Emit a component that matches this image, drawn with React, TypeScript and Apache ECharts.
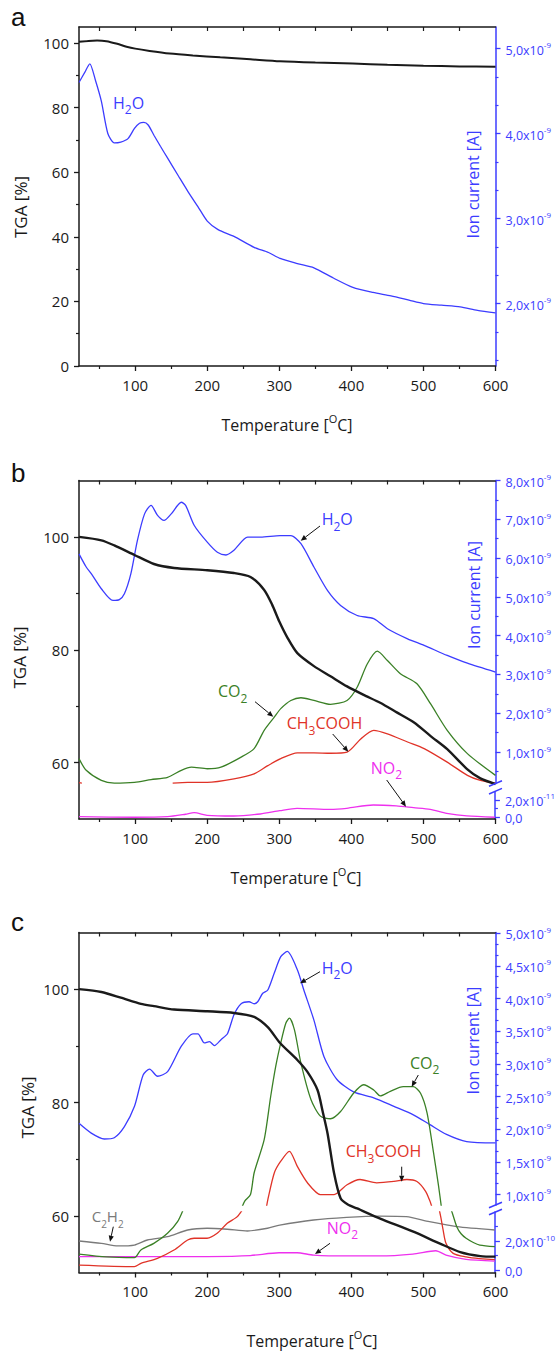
import React, { useEffect, useRef } from "react";
import * as echarts from "echarts";

const FONT = '"Open Sans", "Noto Sans", sans-serif';
const BLUE = "#3c3cff";
const GREEN = "#3a8026";
const RED = "#e03328";
const MAGENTA = "#ee30ee";
const GREY = "#7a7a7a";
const INK = "#1a1a1a";

// ---------- axes ----------
const X_MIN = 22;
const X_MAX = 600;
const X_TICK_LABELS = [100, 200, 300, 400, 500, 600];
const X_MINOR_TICKS = [50, 150, 250, 350, 450, 550];
const X_TOP_TICKS = [50, 100, 150, 200, 250, 300, 350, 400, 450, 500, 550];

const A_TGA_LABELS = [0, 20, 40, 60, 80, 100];
const A_TGA_MINOR = [10, 30, 50, 70, 90];
const BC_TGA_LABELS = [60, 80, 100];
const BC_TGA_MINOR = [70, 90];

const A_ION_LABELS = [2, 3, 4, 5];
const B_ION_LABELS = [1, 2, 3, 4, 5, 6, 7, 8];
const B_LOW_LABELS = [0, 2];
const C_ION_LABELS = [1, 1.5, 2, 2.5, 3, 3.5, 4, 4.5, 5];
const C_LOW_LABELS = [0, 2];

// ---------- panel a ----------
const A_TGA_T = [22, 35, 47, 60, 75, 88, 100, 120, 148, 180, 218, 260, 301, 350, 402, 450, 500, 550, 600];
const A_TGA = [100.4, 100.7, 100.8, 100.6, 99.8, 98.9, 98.3, 97.6, 96.8, 96.2, 95.6, 95.0, 94.4, 94.0, 93.7, 93.3, 93.0, 92.8, 92.7];
const A_H2O_T = [22, 30, 37, 45, 53, 62, 71, 80, 90, 99, 106, 112, 118, 126, 135, 145, 160, 173, 187, 200, 215, 237, 265, 285, 301, 325, 348, 375, 402, 430, 455, 480, 500, 525, 551, 575, 600];
const A_H2O = [4.60, 4.72, 4.82, 4.62, 4.38, 4.00, 3.89, 3.90, 3.94, 4.06, 4.12, 4.13, 4.10, 3.98, 3.85, 3.71, 3.50, 3.32, 3.14, 2.97, 2.87, 2.79, 2.66, 2.60, 2.53, 2.47, 2.42, 2.30, 2.19, 2.13, 2.09, 2.04, 2.00, 1.98, 1.96, 1.92, 1.89];

// ---------- panel b ----------
const B_TGA_T = [22, 53, 71, 99, 126, 154, 200, 237, 260, 279, 290, 300, 311, 325, 348, 371, 394, 417, 440, 463, 487, 510, 533, 561, 579, 600];
const B_TGA = [100, 99.4, 98.5, 96.8, 95.2, 94.5, 94.1, 93.6, 92.9, 90.6, 88.0, 85.0, 82.2, 79.4, 77.1, 75.3, 73.5, 72.0, 70.6, 68.9, 67.1, 64.7, 62.4, 58.8, 57.2, 56.2];
const B_H2O_T = [22, 32, 39, 53, 69, 78, 85, 94, 103, 113, 122, 131, 140, 150, 164, 170, 182, 200, 214, 226, 237, 256, 274, 301, 316, 330, 348, 367, 385, 408, 431, 450, 478, 501, 533, 561, 600];
const B_H2O = [6.11, 5.77, 5.60, 5.21, 4.91, 4.93, 5.08, 5.60, 6.45, 7.14, 7.36, 7.10, 6.97, 7.14, 7.44, 7.36, 6.84, 6.41, 6.15, 6.08, 6.20, 6.54, 6.54, 6.58, 6.58, 6.37, 5.77, 5.16, 4.78, 4.52, 4.44, 4.18, 3.92, 3.75, 3.49, 3.29, 3.06];
const B_CO2_T = [22, 32, 53, 71, 99, 122, 145, 164, 178, 200, 219, 247, 265, 279, 293, 302, 316, 330, 348, 371, 394, 408, 422, 436, 450, 468, 491, 510, 533, 561, 600];
const B_CO2 = [0.83, 0.53, 0.27, 0.20, 0.22, 0.29, 0.35, 0.53, 0.61, 0.57, 0.61, 0.87, 1.09, 1.56, 1.90, 2.12, 2.33, 2.40, 2.33, 2.23, 2.33, 2.67, 3.27, 3.60, 3.36, 3.02, 2.76, 2.24, 1.56, 0.96, 0.40];
const B_ACID_T = [22, 26, 27, 152, 173, 200, 237, 265, 284, 302, 325, 348, 371, 394, 413, 431, 450, 478, 501, 533, 561, 579, 600];
const B_ACID = [0.21, 0.2, null, 0.2, 0.22, 0.22, 0.31, 0.44, 0.65, 0.83, 0.98, 0.98, 0.97, 1.0, 1.34, 1.56, 1.47, 1.26, 1.09, 0.74, 0.40, 0.27, 0.2];
// NO2 in units of 1e-11 A
const B_NO2_T = [22, 99, 145, 170, 182, 200, 237, 274, 301, 325, 371, 394, 431, 463, 487, 510, 533, 561, 600];
const B_NO2 = [0.07, 0.0, 0.07, 0.35, 0.53, 0.23, 0.15, 0.38, 0.76, 1.04, 0.92, 1.04, 1.42, 1.31, 1.11, 0.92, 0.46, 0.15, 0.0];

// ---------- panel c ----------
const C_TGA_T = [22, 53, 80, 108, 126, 154, 200, 237, 265, 284, 301, 325, 339, 353, 360, 367, 376, 385, 395, 408, 440, 486, 523, 551, 579, 600];
const C_TGA = [100, 99.5, 98.5, 97.4, 97.0, 96.4, 96.1, 95.8, 95.1, 93.3, 90.5, 87.5, 85.4, 82.2, 78.5, 74.5, 67.5, 63.1, 62.0, 61.3, 59.5, 57.2, 55.1, 53.6, 52.9, 52.8];
const C_H2O_T = [22, 39, 57, 71, 85, 99, 111, 120, 131, 145, 164, 180, 187, 196, 203, 210, 219, 228, 237, 247, 258, 265, 270, 277, 284, 293, 302, 311, 325, 334, 348, 362, 380, 403, 431, 459, 486, 509, 532, 560, 600];
const C_H2O = [2.09, 1.94, 1.85, 1.87, 2.04, 2.35, 2.83, 2.92, 2.81, 2.88, 3.27, 3.46, 3.46, 3.32, 3.34, 3.28, 3.37, 3.46, 3.75, 3.92, 3.95, 3.92, 3.95, 4.08, 4.13, 4.39, 4.64, 4.72, 4.44, 4.13, 3.67, 3.11, 2.76, 2.57, 2.48, 2.35, 2.22, 2.07, 1.92, 1.81, 1.79];
// upper section, units of 1e-9 A
const C_CO2_HI_T = [248, 252, 260, 265, 279, 288, 295, 302, 309, 314, 321, 330, 344, 357, 371, 385, 403, 417, 431, 440, 454, 472, 486, 496, 505, 514, 521, 525];
const C_CO2_HI = [0.80, 0.90, 1.0, 1.33, 1.84, 2.50, 2.96, 3.32, 3.62, 3.70, 3.52, 3.01, 2.45, 2.20, 2.16, 2.27, 2.55, 2.68, 2.60, 2.51, 2.58, 2.65, 2.65, 2.55, 2.25, 1.64, 1.13, 0.80];
const C_ACID_HI_T = [282, 284, 293, 302, 314, 325, 339, 357, 376, 394, 412, 435, 459, 477, 491, 503, 509, 512];
const C_ACID_HI = [0.80, 0.92, 1.33, 1.51, 1.66, 1.43, 1.18, 1.0, 1.0, 1.15, 1.23, 1.18, 1.20, 1.23, 1.20, 1.05, 0.90, 0.80];
// lower section, units of 1e-10 A
const C_CO2_LO_T = [22, 60, 99, 108, 126, 145, 159, 168, 300, 538, 541, 547, 553, 560, 570, 579, 600];
const C_CO2_LO = [1.10, 0.90, 0.85, 1.38, 1.84, 2.53, 3.33, 4.3, null, 4.3, 3.9, 2.99, 2.5, 2.19, 1.9, 1.72, 1.61];
const C_ACID_LO_T = [22, 99, 108, 131, 154, 173, 182, 200, 214, 228, 242, 251, 300, 522, 525, 528, 532, 542, 560, 579, 600];
const C_ACID_LO = [0.34, 0.23, 0.46, 0.81, 1.38, 2.07, 2.19, 2.19, 2.53, 3.22, 3.68, 4.3, null, 4.3, 3.6, 2.76, 1.84, 1.15, 0.9, 0.78, 0.72];
const C_NO2_T = [22, 100, 200, 260, 300, 325, 348, 394, 440, 486, 518, 532, 560, 600];
const C_NO2 = [0.92, 0.92, 0.93, 1.0, 1.19, 1.19, 1.03, 0.97, 0.97, 1.10, 1.33, 1.03, 0.74, 0.62];
const C_C2H2_T = [22, 53, 76, 99, 117, 145, 173, 200, 228, 256, 284, 301, 348, 394, 440, 477, 509, 547, 600];
const C_C2H2 = [2.0, 1.84, 1.66, 1.72, 2.07, 2.30, 2.76, 2.88, 2.81, 2.69, 2.88, 3.10, 3.45, 3.63, 3.72, 3.68, 3.33, 2.99, 2.76];

// ---------- layout ----------
const LEFT = 79;
const WIDTH = 416.5;

function minorsOf(majors: number[], parts: number, lo: number, hi: number) {
  const step = (majors[1] - majors[0]) / parts;
  const out: number[] = [];
  const start = majors[0] - step * parts;
  for (let v = start; v <= majors[majors.length - 1] + step * parts + 1e-9; v += step) {
    const isMajor = majors.some((m) => Math.abs(m - v) < 1e-6);
    if (!isMajor && v > lo && v < hi) out.push(+v.toFixed(4));
  }
  return out;
}

const ION_RICH = {
  n: { fontFamily: FONT, fontSize: 12.5, color: BLUE, lineHeight: 16, verticalAlign: "bottom" },
  s: { fontFamily: FONT, fontSize: 8, color: BLUE, lineHeight: 9, verticalAlign: "top" },
};

function ionLabel(v: number, exp: string) {
  if (Math.abs(v) < 1e-9) return "{n|0,0}";
  return `{n|${v.toFixed(1).replace(".", ",")}x10}{s|${exp}}`;
}

function buildOption() {
  const grid: any[] = [];
  const xAxis: any[] = [];
  const yAxis: any[] = [];
  const series: any[] = [];
  const graphic: any[] = [];

  const addGrid = (top: number, height: number) => {
    grid.push({ left: LEFT, width: WIDTH, top, height, containLabel: false });
    return grid.length - 1;
  };

  const labelStyle = { fontFamily: FONT, fontSize: 15, color: INK };

  const tickOnlyX = (g: number, position: string, values: number[], length: number, inside: boolean, showLine: boolean) => ({
    type: "value", gridIndex: g, min: X_MIN, max: X_MAX, position,
    axisLine: { show: showLine, onZero: false, lineStyle: { color: INK, width: 1.5 } },
    axisTick: { show: true, inside, length, customValues: values, lineStyle: { color: INK, width: 1.2 } },
    axisLabel: { show: false },
    splitLine: { show: false },
  });

  const tickOnlyY = (g: number, min: number, max: number, position: string, values: number[], length: number, color: string) => ({
    type: "value", gridIndex: g, min, max, position,
    axisLine: { show: false, onZero: false },
    axisTick: { show: true, inside: false, length, customValues: values, lineStyle: { color, width: 1.2 } },
    axisLabel: { show: false },
    splitLine: { show: false },
  });

  const frameX = (g: number) => {
    const idx = xAxis.push({
      type: "value", gridIndex: g, min: X_MIN, max: X_MAX, position: "bottom",
      axisLine: { show: true, onZero: false, lineStyle: { color: INK, width: 1.5 } },
      axisTick: { show: true, inside: false, length: 5, customValues: X_TICK_LABELS, lineStyle: { color: INK, width: 1.3 } },
      axisLabel: { show: true, customValues: X_TICK_LABELS, margin: 11, ...labelStyle },
      splitLine: { show: false },
    }) - 1;
    xAxis.push(tickOnlyX(g, "bottom", X_MINOR_TICKS, 3, false, false));
    xAxis.push(tickOnlyX(g, "top", X_TOP_TICKS, 4, true, true));
    return idx;
  };

  const hiddenX = (g: number) =>
    xAxis.push({ type: "value", gridIndex: g, min: X_MIN, max: X_MAX, show: false, axisLine: { onZero: false } }) - 1;

  const leftAxis = (g: number, min: number, max: number, labels: number[], minors: number[]) => {
    const idx = yAxis.push({
      type: "value", gridIndex: g, min, max, position: "left",
      axisLine: { show: true, onZero: false, lineStyle: { color: INK, width: 1.5 } },
      axisTick: { show: true, inside: false, length: 5, customValues: labels, lineStyle: { color: INK, width: 1.3 } },
      axisLabel: { show: true, customValues: labels, margin: 10, ...labelStyle },
      splitLine: { show: false },
    }) - 1;
    yAxis.push(tickOnlyY(g, min, max, "left", minors, 3, INK));
    return idx;
  };

  const ionAxis = (g: number, min: number, max: number, labels: number[], minors: number[], exp: string) => {
    const idx = yAxis.push({
      type: "value", gridIndex: g, min, max, position: "right",
      axisLine: { show: true, onZero: false, lineStyle: { color: BLUE, width: 1.5 } },
      axisTick: { show: true, inside: false, length: 5, customValues: labels, lineStyle: { color: BLUE, width: 1.3 } },
      axisLabel: { show: true, customValues: labels, margin: 10, formatter: (v: number) => ionLabel(v, exp), rich: ION_RICH },
      splitLine: { show: false },
    }) - 1;
    yAxis.push(tickOnlyY(g, min, max, "right", minors, 3, BLUE));
    return idx;
  };

  const line = (xi: number, yi: number, T: number[], V: (number | null)[], color: string, width: number) => {
    series.push({
      type: "line", xAxisIndex: xi, yAxisIndex: yi,
      data: T.map((t, i) => [t, V[i]]),
      symbol: "none", smooth: 0.25, clip: true, silent: true,
      lineStyle: { color, width }, itemStyle: { color },
    });
  };

  // ---- panel a ----
  const gA = addGrid(27, 339);
  const xA = frameX(gA);
  const yA = leftAxis(gA, 0, 105, A_TGA_LABELS, A_TGA_MINOR);
  const yAI = ionAxis(gA, 1.265, 5.253, A_ION_LABELS, minorsOf(A_ION_LABELS, 3, 1.265, 5.253), "-9");

  // ---- panel b ----
  const gB = addGrid(480.5, 338.5);
  const gBU = addGrid(480.5, 303);
  const gBL = addGrid(791.7, 27.3);
  const xB = frameX(gB);
  const yB = leftAxis(gB, 50, 110, BC_TGA_LABELS, BC_TGA_MINOR);
  const xBU = hiddenX(gBU);
  const yBU = ionAxis(gBU, 0.19, 8.0, B_ION_LABELS, minorsOf(B_ION_LABELS, 2, 0.19, 8.0), "-9");
  const xBL = hiddenX(gBL);
  const yBL = ionAxis(gBL, -0.2, 2.96, B_LOW_LABELS, [1], "-11");

  // ---- panel c ----
  const gC = addGrid(932.5, 340);
  const gCU = addGrid(932.5, 272.5);
  const gCL = addGrid(1212, 60.5);
  const xC = frameX(gC);
  const yC = leftAxis(gC, 50, 110, BC_TGA_LABELS, BC_TGA_MINOR);
  const xCU = hiddenX(gCU);
  const yCU = ionAxis(gCU, 0.84, 5.01, C_ION_LABELS, minorsOf(C_ION_LABELS, 3, 0.84, 5.01), "-9");
  const xCL = hiddenX(gCL);
  const yCL = ionAxis(gCL, -0.17, 4.0, C_LOW_LABELS, [1, 3], "-10");

  // series: ion currents first, TGA on top
  line(xA, yAI, A_H2O_T, A_H2O, BLUE, 1.3);

  line(xBU, yBU, B_H2O_T, B_H2O, BLUE, 1.3);
  line(xBU, yBU, B_CO2_T, B_CO2, GREEN, 1.3);
  line(xBU, yBU, B_ACID_T, B_ACID, RED, 1.3);
  line(xBL, yBL, B_NO2_T, B_NO2, MAGENTA, 1.3);

  line(xCU, yCU, C_H2O_T, C_H2O, BLUE, 1.3);
  line(xCU, yCU, C_CO2_HI_T, C_CO2_HI, GREEN, 1.3);
  line(xCU, yCU, C_ACID_HI_T, C_ACID_HI, RED, 1.3);
  line(xCL, yCL, C_C2H2_T, C_C2H2, GREY, 1.3);
  line(xCL, yCL, C_NO2_T, C_NO2, MAGENTA, 1.3);
  line(xCL, yCL, C_CO2_LO_T, C_CO2_LO, GREEN, 1.3);
  line(xCL, yCL, C_ACID_LO_T, C_ACID_LO, RED, 1.3);

  line(xA, yA, A_TGA_T, A_TGA, INK, 2);
  line(xB, yB, B_TGA_T, B_TGA, INK, 2.4);
  line(xC, yC, C_TGA_T, C_TGA, INK, 2.4);

  // ---- graphics ----
  const Z = 100;
  const panelLetter = (t: string, x: number, yc: number) =>
    graphic.push({ type: "text", x, y: yc, z: Z, style: { text: t, fontFamily: '"Liberation Sans", Arial, sans-serif', fontSize: 26, fill: "#111", align: "left", verticalAlign: "middle" } });
  panelLetter("a", 11, 17);
  panelLetter("b", 11, 472.7);
  panelLetter("c", 11, 921.7);

  const rotated = (t: string, x: number, y: number, color: string, size: number) =>
    graphic.push({ type: "text", x, y, rotation: Math.PI / 2, z: Z, style: { text: t, fontFamily: FONT, fontSize: size, fill: color, align: "center", verticalAlign: "middle" } });
  rotated("TGA [%]", 20, 207, INK, 17);
  rotated("TGA [%]", 19, 657.5, INK, 17);
  rotated("TGA [%]", 27, 1107.5, INK, 17);
  rotated("Ion current [A]", 472.5, 184.5, BLUE, 16);
  rotated("Ion current [A]", 474, 595, BLUE, 16);
  rotated("Ion current [A]", 472.5, 1040.7, BLUE, 16);

  const tempTitle = (xc: number, yc: number) =>
    graphic.push({
      type: "text", x: xc, y: yc - 10, z: Z,
      style: {
        text: "{n|Temperature [}{s|O}{n|C]}",
        align: "center", verticalAlign: "top", fill: INK, fontFamily: FONT, fontSize: 16,
        rich: {
          n: { fontFamily: FONT, fontSize: 16, lineHeight: 20, verticalAlign: "bottom", fill: INK },
          s: { fontFamily: FONT, fontSize: 11, lineHeight: 13, verticalAlign: "top", fill: INK },
        },
      },
    });
  tempTitle(287, 423);
  tempTitle(296, 876);
  tempTitle(312, 1339);

  // subscript: main tokens top-aligned, subscript token bottom-aligned in a taller line
  const chem = (text: string, x: number, yc: number, color: string, size = 16, sub = 12) =>
    graphic.push({
      type: "text", x, y: yc - size / 2, z: Z,
      style: {
        text, align: "left", verticalAlign: "top", fill: color, fontFamily: FONT, fontSize: size,
        rich: {
          n: { fontFamily: FONT, fontSize: size, lineHeight: size, verticalAlign: "top", fill: color },
          s: { fontFamily: FONT, fontSize: sub, lineHeight: size + 5, verticalAlign: "bottom", fill: color },
        },
      },
    });
  chem("{n|H}{s|2}{n|O}", 113, 102.5, BLUE);
  chem("{n|H}{s|2}{n|O}", 321.7, 519, BLUE);
  chem("{n|CO}{s|2}", 218, 691, GREEN);
  chem("{n|CH}{s|3}{n|COOH}", 286.7, 723, RED);
  chem("{n|NO}{s|2}", 370.7, 767.5, MAGENTA);
  chem("{n|H}{s|2}{n|O}", 321.7, 967.5, BLUE);
  chem("{n|CO}{s|2}", 410, 1062.5, GREEN);
  chem("{n|CH}{s|3}{n|COOH}", 345.7, 1151, RED);
  chem("{n|NO}{s|2}", 326.7, 1227.5, MAGENTA);
  chem("{n|C}{s|2}{n|H}{s|2}", 91.7, 1216, GREY, 15, 10);

  const arrow = (x1: number, y1: number, x2: number, y2: number) => {
    const dx = x2 - x1, dy = y2 - y1;
    const L = Math.hypot(dx, dy);
    const ux = dx / L, uy = dy / L;
    const hl = 6, hw = 2.6;
    const bx = x2 - ux * hl, by = y2 - uy * hl;
    graphic.push({ type: "line", z: Z, shape: { x1, y1, x2: bx, y2: by }, style: { stroke: "#111", lineWidth: 1 } });
    graphic.push({ type: "polygon", z: Z, shape: { points: [[x2, y2], [bx - uy * hw, by + ux * hw], [bx + uy * hw, by - ux * hw]] }, style: { fill: "#111" } });
  };
  arrow(320, 526, 300.7, 540.7);
  arrow(255, 701.7, 273.3, 716.7);
  arrow(332.7, 734, 348.3, 751.7);
  arrow(386.7, 780, 406, 806.7);
  arrow(320, 971.7, 300, 983.3);
  arrow(418.3, 1075, 411.7, 1086.7);
  arrow(401.7, 1166.7, 401.7, 1181.7);
  arrow(330, 1243.3, 315, 1254);
  arrow(113.3, 1226.7, 110, 1241.7);

  const breakMark = (x: number, y: number) =>
    graphic.push({ type: "line", z: Z, shape: { x1: x - 6.5, y1: y + 2.8, x2: x + 6.5, y2: y - 2.8 }, style: { stroke: BLUE, lineWidth: 1.5 } });
  const RX = LEFT + WIDTH;
  breakMark(RX, 783.5);
  breakMark(RX, 791.2);
  breakMark(RX, 1205);
  breakMark(RX, 1212);

  return { animation: false, grid, xAxis, yAxis, series, graphic };
}

export default function App() {
  const ref = useRef<HTMLDivElement>(null);
  useEffect(() => {
    document.body.style.margin = "0";
    const chart = echarts.init(ref.current!, null, { renderer: "svg" });
    chart.setOption(buildOption() as any);
    return () => chart.dispose();
  }, []);
  return <div ref={ref} style={{ width: 558, height: 1351 }} />;
}
